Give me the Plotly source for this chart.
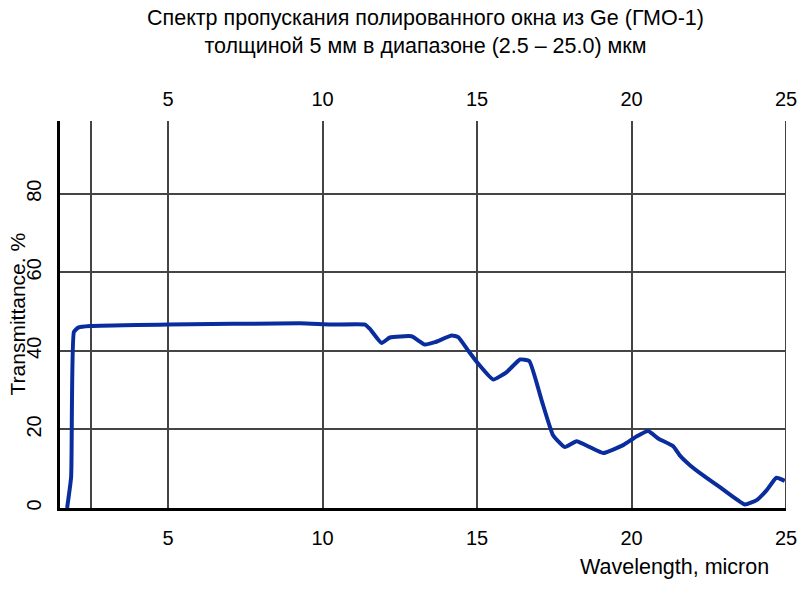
import plotly.graph_objects as go

wavelength = [1.73, 1.86, 1.95, 2.09, 2.47, 5.0, 9.27, 10.27, 11.37, 11.53, 11.91, 12.18,
              12.88, 13.31, 13.64, 14.18, 14.39, 14.71, 15.04, 15.52, 15.96, 16.39, 16.69,
              17.09, 17.46, 17.84, 18.22, 18.65, 19.08, 19.73, 20.16, 20.54, 20.86, 21.35,
              21.56, 21.89, 22.32, 22.86, 23.67, 24.05, 24.37, 24.69, 24.96]
transmittance = [0.0, 7.9, 44.8, 45.9, 46.3, 46.7, 47.0, 46.7, 46.7, 45.6, 42.0, 43.4,
                 43.7, 41.6, 42.2, 43.9, 43.5, 40.1, 36.7, 32.7, 34.6, 37.8, 37.4,
                 27.4, 18.5, 15.5, 17.0, 15.5, 14.0, 16.0, 18.2, 19.6, 17.7, 15.7,
                 13.4, 10.9, 8.3, 5.3, 0.9, 2.0, 4.5, 7.7, 6.9]

x_grid = [2.5, 5, 10, 15, 20, 25]
x_text = ["", "5", "10", "15", "20", "25"]
y_ticks = [0, 20, 40, 60, 80]
y_text = ["0", "20", "40", "60", "80"]

title_lines = ["Спектр пропускания полированного окна из Ge (ГМО-1)",
               "толщиной 5 мм в диапазоне (2.5 – 25.0) мкм"]
x_title = "Wavelength, micron"
y_title = "Transmittance. %"

FONT = "Liberation Sans, Arial, sans-serif"

fig = go.Figure()
fig.add_trace(go.Scatter(x=wavelength, y=transmittance, mode="lines",
                         line=dict(color="#0a2d9e", width=4, shape="spline", smoothing=0.4),
                         showlegend=False, hoverinfo="skip"))
fig.add_trace(go.Scatter(x=[None], y=[None], xaxis="x2", showlegend=False))

fig.update_layout(
    width=800, height=601,
    margin=dict(l=60, r=14, t=121, b=93),
    plot_bgcolor="white", paper_bgcolor="white",
    font=dict(family=FONT, size=20, color="black"),
    xaxis=dict(range=[1.5, 25], tickvals=x_grid, ticktext=x_text,
               showgrid=True, gridcolor="#444444", gridwidth=2,
               zeroline=False, showline=True, linecolor="black", linewidth=3,
               ticks="", ticklabelstandoff=10, automargin=False),
    xaxis2=dict(range=[1.5, 25], overlaying="x", side="top", matches="x",
                tickvals=x_grid, ticktext=x_text, showgrid=False,
                showline=False, ticks="", ticklabelstandoff=10, automargin=False),
    yaxis=dict(range=[0, 98.5], tickvals=y_ticks, ticktext=y_text, tickangle=-90,
               showgrid=True, gridcolor="#444444", gridwidth=2,
               zeroline=False, showline=True, linecolor="black", linewidth=3,
               ticks="", ticklabelstandoff=8, automargin=False),
    annotations=[
        dict(text="<br>".join(title_lines), xref="paper", yref="paper", x=0.503, y=1.0,
             yshift=117, xanchor="center", yanchor="top", showarrow=False,
             font=dict(size=21.5, family=FONT)),
        dict(text=x_title, xref="paper", yref="paper", x=0.846, y=0, yshift=-45,
             xanchor="center", yanchor="top", showarrow=False, font=dict(size=21.5, family=FONT)),
        dict(text=y_title, xref="paper", yref="paper", x=0, xshift=-43, y=0.5,
             xanchor="center", yanchor="middle", textangle=-90, showarrow=False,
             font=dict(size=21, family=FONT)),
    ],
)
fig.add_shape(type="line", xref="x", yref="paper", x0=25, x1=25, y0=0, y1=1,
              line=dict(color="#444444", width=2))

fig.write_html("out.html")
